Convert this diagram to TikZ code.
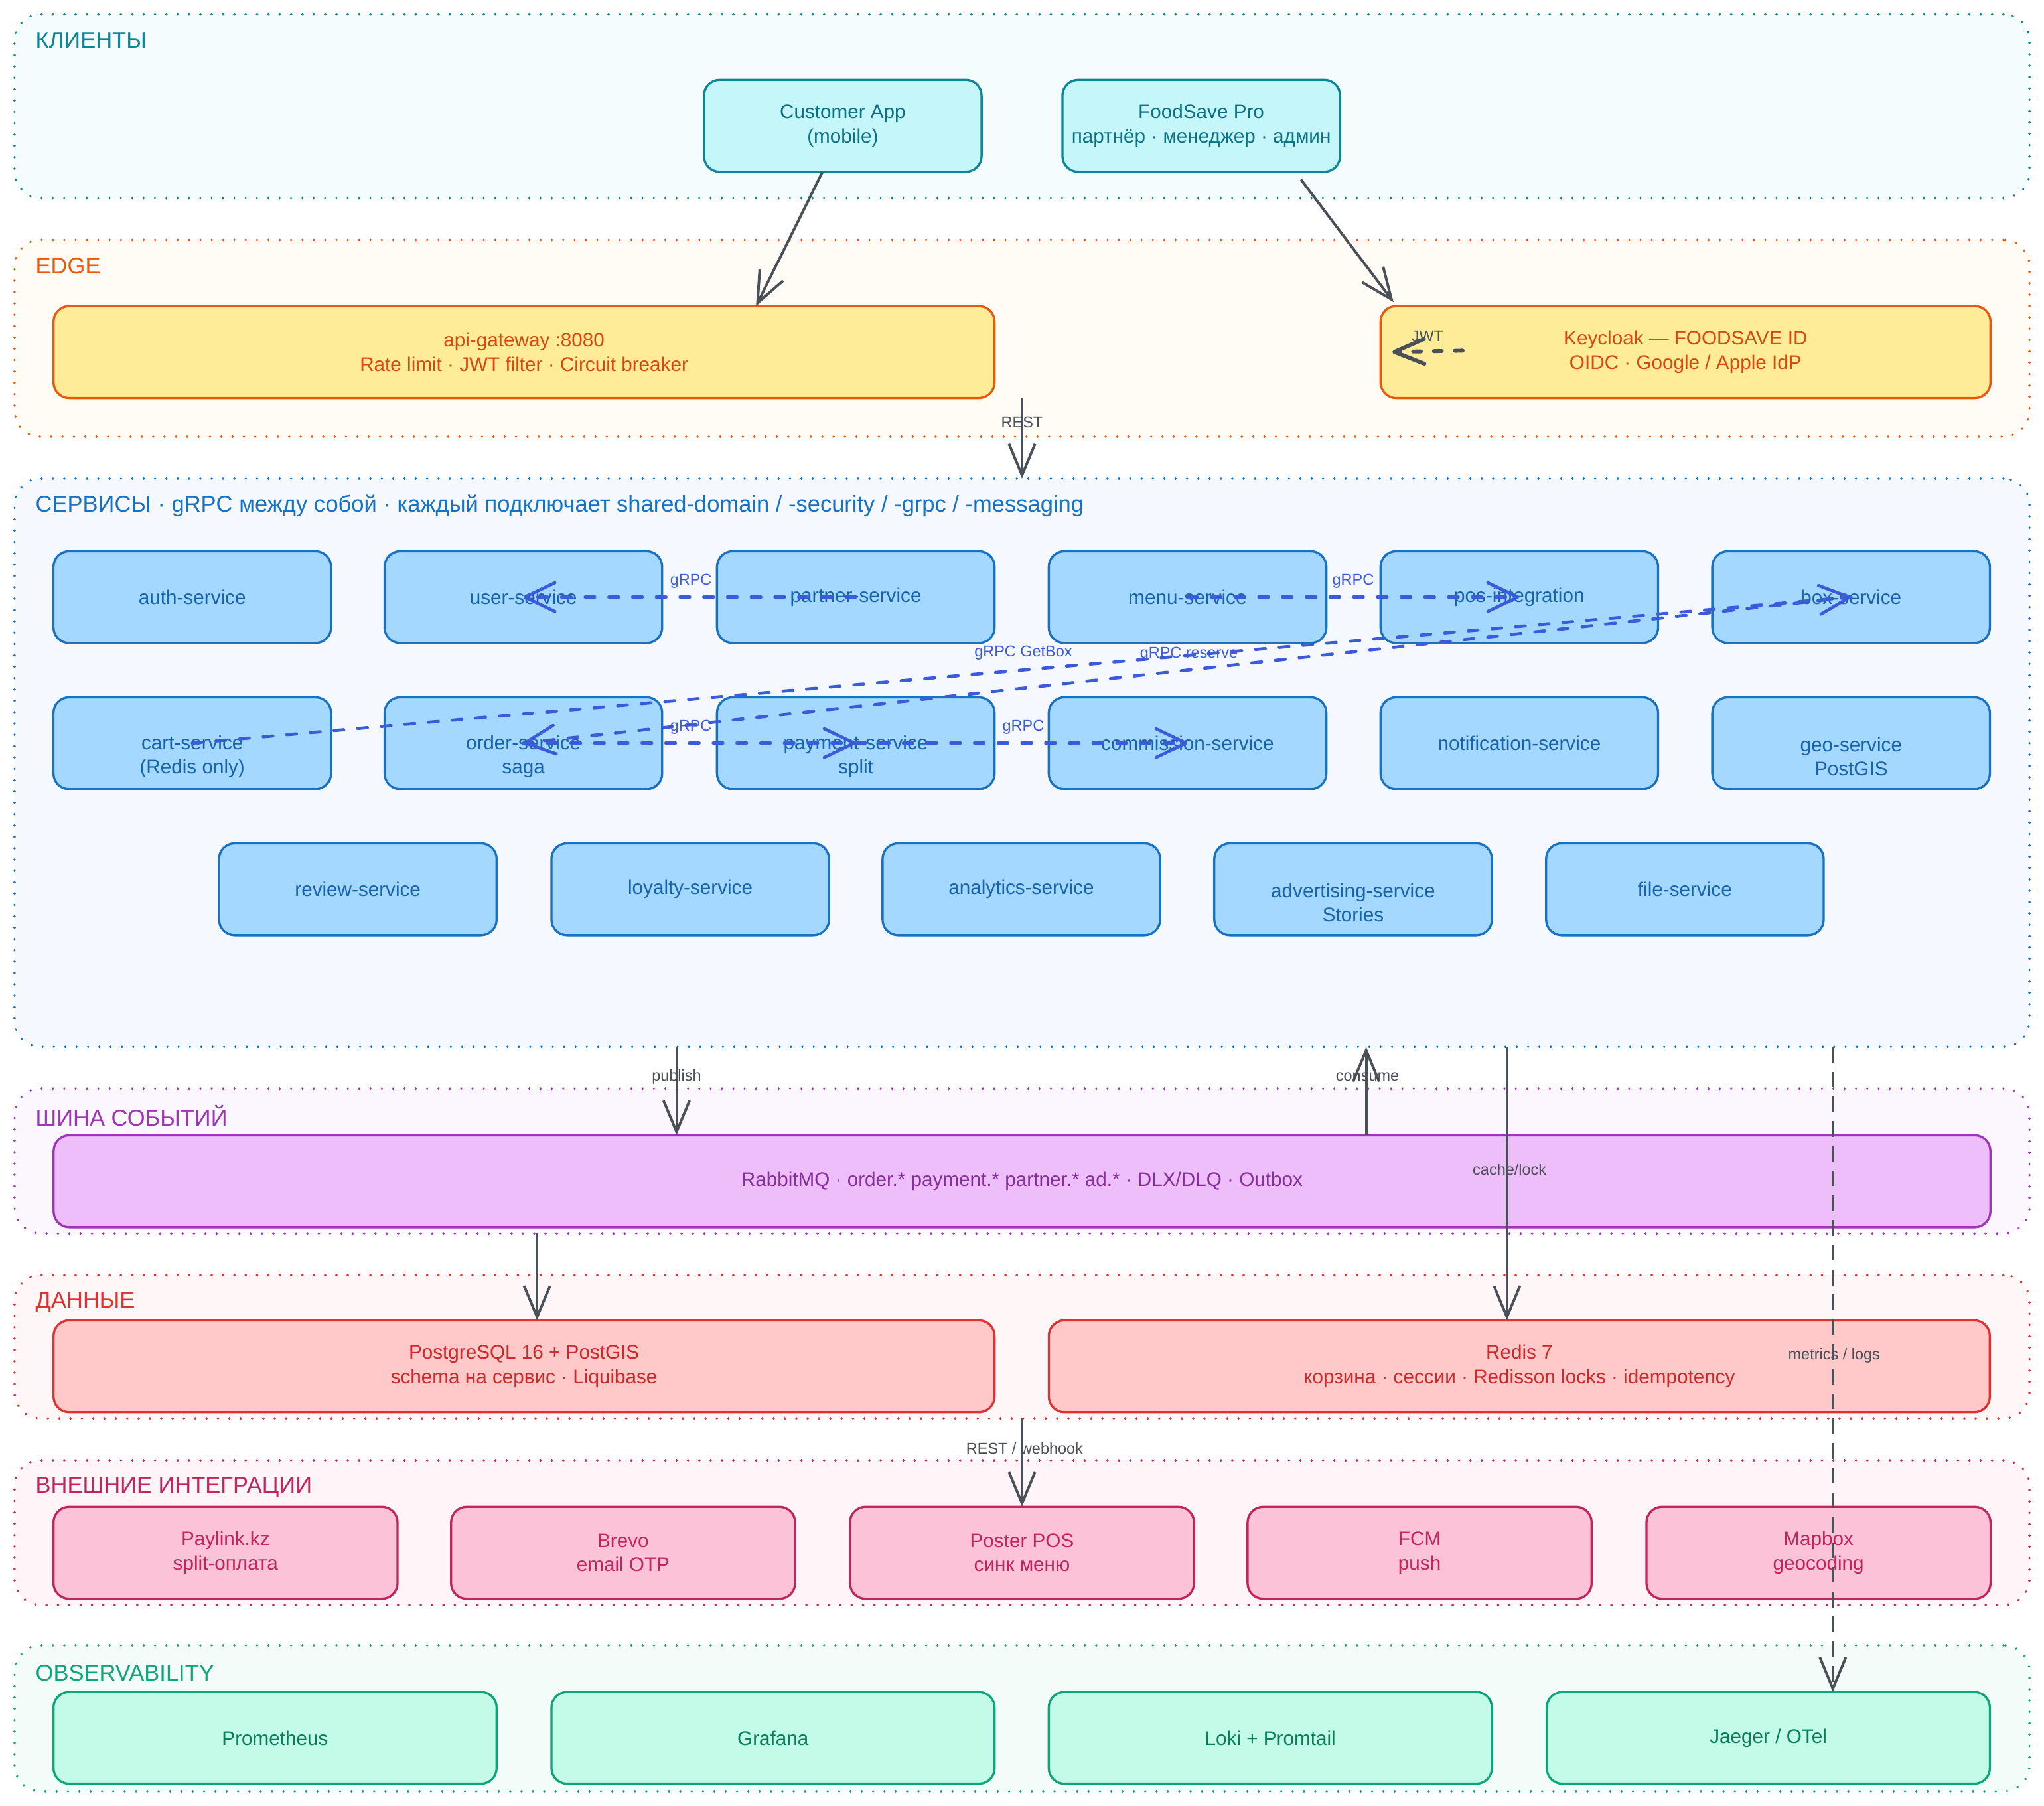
\documentclass[tikz,border=0pt]{standalone}
\usepackage{fontspec}
\setmainfont{Liberation Sans}
\usetikzlibrary{arrows.meta,calc}
\definecolor{cliF}{HTML}{F5FCFE}\definecolor{cliS}{HTML}{0C8599}\definecolor{cliN}{HTML}{C5F6FA}\definecolor{cliT}{HTML}{0B7285}
\definecolor{edgF}{HTML}{FFFCF5}\definecolor{edgS}{HTML}{E8590C}\definecolor{edgN}{HTML}{FFEC99}\definecolor{edgT}{HTML}{D9480F}
\definecolor{svcF}{HTML}{F5F9FF}\definecolor{svcS}{HTML}{1971C2}\definecolor{svcN}{HTML}{A5D8FF}\definecolor{svcT}{HTML}{1864AB}
\definecolor{busF}{HTML}{FCF7FE}\definecolor{busS}{HTML}{9C36B5}\definecolor{busN}{HTML}{EEBEFA}\definecolor{busT}{HTML}{862E9C}
\definecolor{datF}{HTML}{FFF7F7}\definecolor{datS}{HTML}{E03131}\definecolor{datN}{HTML}{FFC9C9}\definecolor{datT}{HTML}{C92A2A}
\definecolor{extF}{HTML}{FFF5F8}\definecolor{extS}{HTML}{C2255C}\definecolor{extN}{HTML}{FCC2D7}\definecolor{extT}{HTML}{C2255C}
\definecolor{obsF}{HTML}{F3FCF9}\definecolor{obsS}{HTML}{0CA678}\definecolor{obsN}{HTML}{C3FAE8}\definecolor{obsT}{HTML}{087F5B}
\definecolor{grayE}{HTML}{495057}\definecolor{blueE}{HTML}{3B5BDB}
\begin{document}
\begin{tikzpicture}[x=0.02cm,y=-0.02cm,
  box/.style={draw, rounded corners=0.24cm, line width=0.034cm, outer sep=0pt, inner sep=0pt, align=center, font=\fontsize{8.6}{10.6}\selectfont, minimum height=1.41cm},
  cli/.style={box, fill=cliN, draw=cliS, text=cliT, minimum width=4.26cm},
  edg/.style={box, fill=edgN, draw=edgS, text=edgT},
  svc/.style={box, fill=svcN, draw=svcS, text=svcT, minimum width=4.26cm},
  bus/.style={box, fill=busN, draw=busS, text=busT},
  dat/.style={box, fill=datN, draw=datS, text=datT, minimum width=14.44cm},
  ext/.style={box, fill=extN, draw=extS, text=extT, minimum width=5.28cm},
  obs/.style={box, fill=obsN, draw=obsS, text=obsT, minimum width=6.8cm},
  grp/.style={rounded corners=0.4cm, line width=0.04cm, dash pattern=on 0.001cm off 0.173cm, line cap=round, minimum width=30.92cm, outer sep=0pt, inner sep=0pt},
  gtitle/.style={anchor=west, inner sep=0pt, font=\fontsize{10}{12}\selectfont},
  elab/.style={font=\fontsize{6.8}{8}\selectfont, text=grayE, inner sep=0pt},
  blab/.style={font=\fontsize{6.8}{8}\selectfont, text=blueE, inner sep=0pt},
  gedge/.style={draw=grayE, line width=0.04cm, -{Straight Barb[length=0.48cm, width=0.4cm]}},
  gdash/.style={gedge, dash pattern=on 0.24cm off 0.14cm},
  jwtedge/.style={draw=grayE, line width=0.06cm, line cap=round, dash pattern=on 0.12cm off 0.2cm, -{Straight Barb[length=0.46cm, width=0.38cm, round]}},
  bedge/.style={draw=blueE, line width=0.048cm, line cap=round, dash pattern=on 0.15cm off 0.214cm, -{Straight Barb[length=0.46cm, width=0.44cm, round]}},
]
\useasboundingbox (0,0) rectangle (1568,1385);
\fill[white] (0,0) rectangle (1568,1385);

% groups
\node[grp, fill=cliF, draw=cliS, minimum height=2.82cm] (gcli) at (784,81.5) {};
\node[grp, fill=edgF, draw=edgS, minimum height=3.02cm] (gedg) at (784,259.5) {};
\node[grp, fill=svcF, draw=svcS, minimum height=8.72cm] (gsvc) at (784,585) {};
\node[grp, fill=busF, draw=busS, minimum height=2.22cm] (gbus) at (784,890.5) {};
\node[grp, fill=datF, draw=datS, minimum height=2.2cm] (gdat) at (784,1033) {};
\node[grp, fill=extF, draw=extS, minimum height=2.22cm] (gext) at (784,1175.5) {};
\node[grp, fill=obsF, draw=obsS, minimum height=2.24cm] (gobs) at (784,1318) {};

\node[gtitle, text=cliS] (tcli) at (27,31) {КЛИЕНТЫ};
\node[gtitle, text=edgS] (tedg) at (27,204) {EDGE};
\node[gtitle, text=svcS] (tsvc) at (27,388) {СЕРВИСЫ · gRPC между собой · каждый подключает shared-domain / -security / -grpc / -messaging};
\node[gtitle, text=busS] (tbus) at (27,856) {ШИНА СОБЫТИЙ};
\node[gtitle, text=datS] (tdat) at (27,999) {ДАННЫЕ};
\node[gtitle, text=extS] (text) at (27,1141) {ВНЕШНИЕ ИНТЕГРАЦИИ};
\node[gtitle, text=obsS] (tobs) at (27,1283) {OBSERVABILITY};

% clients
\node[cli] (cust) at (646.5,96.5) {Customer App\\(mobile)};
\node[cli] (pro) at (921.5,96.5) {FoodSave Pro\\партнёр · менеджер · админ};
% edge
\node[edg, minimum width=14.44cm] (gw) at (402,270) {api-gateway :8080\\Rate limit · JWT filter · Circuit breaker};
\node[edg, minimum width=9.36cm] (kc) at (1293,270) {Keycloak — FOODSAVE ID\\OIDC · Google / Apple IdP};
% services
\node[svc] (auth) at (147.5,458) {auth-service};
\node[svc] (user) at (401.5,458) {user-service};
\node[svc] (partner) at (656.5,458) {partner-service};
\node[svc] (menu) at (911,458) {menu-service};
\node[svc] (pos) at (1165.5,458) {pos-integration};
\node[svc] (boxs) at (1420,458) {box-service};
\node[svc] (cart) at (147.5,570) {\strut\\cart-service\\(Redis only)};
\node[svc] (order) at (401.5,570) {\strut\\order-service\\saga};
\node[svc] (pay) at (656.5,570) {\strut\\payment-service\\split};
\node[svc] (comm) at (911,570) {commission-service};
\node[svc] (notif) at (1165.5,570) {notification-service};
\node[svc] (geo) at (1420,570) {\strut\\geo-service\\PostGIS};
\node[svc] (review) at (274.5,682) {review-service};
\node[svc] (loyal) at (529.5,682) {loyalty-service};
\node[svc] (analyt) at (783.5,682) {analytics-service};
\node[svc] (adv) at (1038,682) {\strut\\advertising-service\\Stories};
\node[svc] (file) at (1292.5,682) {file-service};
% bus
\node[bus, minimum width=29.72cm] (mq) at (784,906) {RabbitMQ · order.* payment.* partner.* ad.* · DLX/DLQ · Outbox};
% data
\node[dat] (pg) at (402,1048) {PostgreSQL 16 + PostGIS\\schema на сервис · Liquibase};
\node[dat] (redis) at (1165.5,1048) {Redis 7\\корзина · сессии · Redisson locks · idempotency};
% external
\node[ext] (paylink) at (173,1191) {Paylink.kz\\split-оплата};
\node[ext] (brevo) at (478,1191) {Brevo\\email OTP};
\node[ext] (poster) at (784,1191) {Poster POS\\синк меню};
\node[ext] (fcm) at (1089,1191) {FCM\\push};
\node[ext] (mapbox) at (1395,1191) {Mapbox\\geocoding};
% observability
\node[obs] (prom) at (211,1333) {Prometheus};
\node[obs] (graf) at (593,1333) {Grafana};
\node[obs] (loki) at (974.5,1333) {Loki + Promtail};
\node[obs] (jaeger) at (1356.5,1333) {Jaeger / OTel};

% helper coordinates
\coordinate (pubx) at (519,0);
\coordinate (conx) at (1048,0);
\coordinate (cachex) at (1156,0);
\coordinate (pgx) at (412,0);
\coordinate (metx) at (1406,0);
\coordinate (jwtS) at (1122,269);

% gray connectors
\draw[gedge] ([xshift=-0.31cm]cust.south) -- ([xshift=3.56cm]gw.north);
\draw[gedge] ([shift={(1.53cm,-0.12cm)}]pro.south) -- ([shift={(0.2cm,0.06cm)}]kc.north west);
\draw[jwtedge] (jwtS) -- ([xshift=0.18cm]kc.west);
\node[elab] (ljwt) at (1095,258) {JWT};
\draw[gedge] (gw.south -| gsvc.north) -- (gsvc.north);
\node[elab] (lrest) at (784,324) {REST};
\draw[gedge] (gsvc.south -| pubx) -- (mq.north -| pubx);
\node[elab] (lpub) at (519,826) {publish};
\draw[gedge] (mq.north -| conx) -- (gsvc.south -| conx);
\node[elab] (lcon) at (1049,826) {consume};
\draw[gedge] (gsvc.south -| cachex) -- (redis.north -| cachex);
\node[elab] (lcache) at (1158,897) {cache/lock};
\draw[gedge] (gbus.south -| pgx) -- (pg.north -| pgx);
\draw[gedge] (gdat.south -| poster.north) -- (poster.north);
\node[elab] (lwh) at (786,1111) {REST / webhook};
\draw[gdash] (gsvc.south -| metx) -- (jaeger.north -| metx);
\node[elab] (lmet) at (1407,1040) {metrics / logs};

% blue gRPC connectors
\draw[bedge] (partner.center) -- (user.center);
\node[blab] (l1) at (530,446) {gRPC};
\draw[bedge] (menu.center) -- (pos.center);
\node[blab] (l2) at (1038,446) {gRPC};
\draw[bedge] (cart.center) -- (boxs.center);
\node[blab] (l3) at (785,501) {gRPC GetBox};
\draw[bedge] (boxs.center) -- (order.center);
\node[blab] (l4) at (912,502) {gRPC reserve};
\draw[bedge] (order.center) -- (pay.center);
\node[blab] (l5) at (530,558) {gRPC};
\draw[bedge] (pay.center) -- (comm.center);
\node[blab] (l6) at (785,558) {gRPC};
\end{tikzpicture}
\end{document}
